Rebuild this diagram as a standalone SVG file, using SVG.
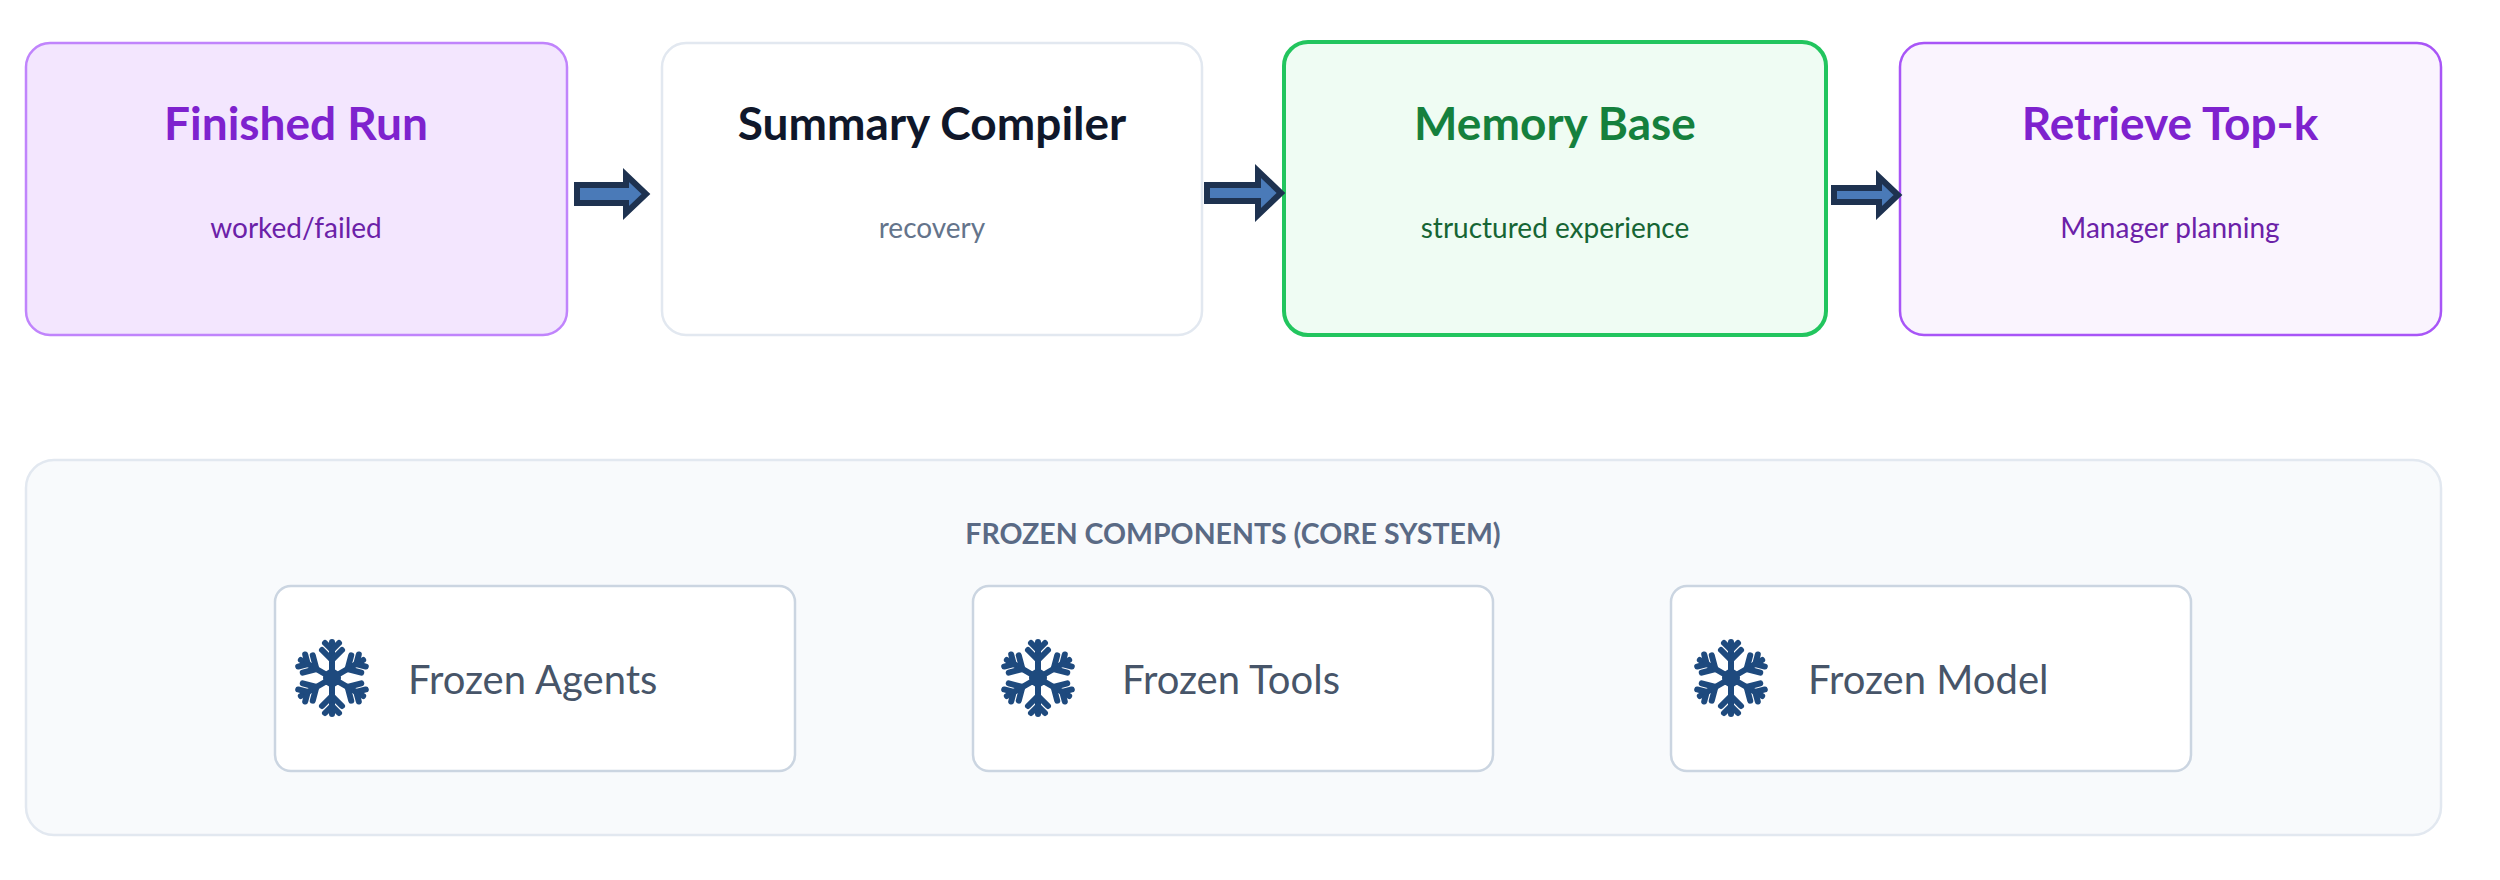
<svg xmlns="http://www.w3.org/2000/svg" width="2500" height="880" viewBox="0 0 2500 880">
<defs>
<style>
.t{font-family:Lato,"Open Sans",sans-serif;font-weight:700;font-size:46px;text-anchor:middle}
.s{font-family:Lato,"Open Sans",sans-serif;font-size:28px;text-anchor:middle}
.f{font-family:Lato,"Open Sans",sans-serif;font-size:40px;fill:#475569}
.card{fill:#fff;stroke:#cbd5e1;stroke-width:2.5}
.arr{fill:#4a7ab8;stroke:#1e3250;stroke-width:6;stroke-linejoin:miter}
.flake line{stroke:#1e4a7e;stroke-width:6;stroke-linecap:round}
</style>
<g id="flk" class="flake">
<g id="arm"><line x1="0" y1="0" x2="0" y2="-36"/><line x1="0" y1="-18" x2="-10" y2="-28"/><line x1="0" y1="-18" x2="10" y2="-28"/><line x1="0" y1="-28" x2="-7" y2="-35"/><line x1="0" y1="-28" x2="7" y2="-35"/></g>
<use href="#arm" transform="rotate(60)"/><use href="#arm" transform="rotate(120)"/><use href="#arm" transform="rotate(180)"/><use href="#arm" transform="rotate(240)"/><use href="#arm" transform="rotate(300)"/>
<circle r="9" fill="#1e4a7e"/>
</g>
</defs>
<rect width="2500" height="880" fill="#fff"/>
<g id="finished-run"><rect x="26" y="43" width="541" height="292" rx="24" fill="#f3e6fe" stroke="#c084fc" stroke-width="2.5"/><text class="t" x="296" y="140" fill="#7e22ce">Finished Run</text><text class="s" x="296" y="238" fill="#6b21a8">worked/failed</text></g>
<g id="summary-compiler"><rect x="662" y="43" width="540" height="292" rx="24" fill="#fff" stroke="#e2e8f0" stroke-width="2.5"/><text class="t" x="932" y="140" fill="#0f172a">Summary Compiler</text><text class="s" x="932" y="238" fill="#64748b">recovery</text></g>
<g id="memory-base"><rect x="1284" y="42" width="542" height="293" rx="24" fill="#effcf3" stroke="#22c55e" stroke-width="4"/><text class="t" x="1555" y="140" fill="#15803d">Memory Base</text><text class="s" x="1555" y="238" fill="#166534">structured experience</text></g>
<g id="retrieve-top-k"><rect x="1900" y="43" width="541" height="292" rx="24" fill="#faf4fe" stroke="#a855f7" stroke-width="2.5"/><text class="t" x="2170" y="140" fill="#7e22ce">Retrieve Top-k</text><text class="s" x="2170" y="238" fill="#6b21a8">Manager planning</text></g>
<g id="connectors">
<path class="arr" d="M577,185 L626,185 L626,175 L646,194 L626,213 L626,203 L577,203 Z"/>
<path class="arr" d="M1207,185 L1258,185 L1258,171 L1281,193 L1258,215 L1258,201 L1207,201 Z"/>
<path class="arr" d="M1834,188 L1879,188 L1879,177 L1898,195 L1879,213 L1879,202 L1834,202 Z"/>
</g>
<g id="frozen-panel"><rect x="26" y="460" width="2415" height="375" rx="28" fill="#f8fafc" stroke="#e2e8f0" stroke-width="2.5"/><text x="1233" y="544" font-family="Lato,'Open Sans',sans-serif" font-weight="700" font-size="28.5" fill="#5a6a85" text-anchor="middle">FROZEN COMPONENTS (CORE SYSTEM)</text></g>
<g id="frozen-agents"><rect class="card" x="275" y="586" width="520" height="185" rx="16"/><use href="#flk" x="332" y="678"/><text class="f" x="408" y="694">Frozen Agents</text></g>
<g id="frozen-tools"><rect class="card" x="973" y="586" width="520" height="185" rx="16"/><use href="#flk" x="1038" y="678"/><text class="f" x="1122" y="694">Frozen Tools</text></g>
<g id="frozen-model"><rect class="card" x="1671" y="586" width="520" height="185" rx="16"/><use href="#flk" x="1731" y="678"/><text class="f" x="1808" y="694">Frozen Model</text></g>
</svg>
